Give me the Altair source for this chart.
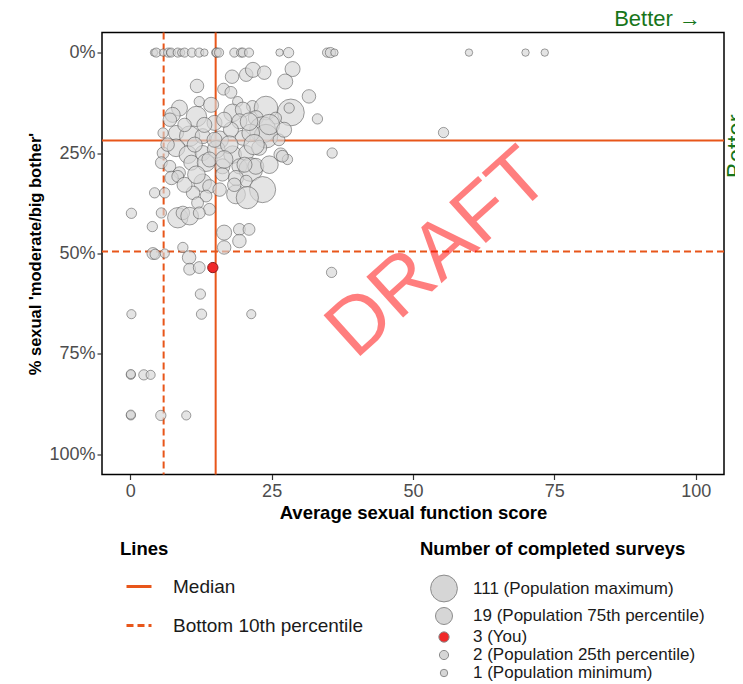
import altair as alt
import pandas as pd

FONT = "Liberation Sans"
ORANGE = "#e8561a"
GREEN = "#17751a"
GREY = "#d6d6d6"
RED = "#f02828"

# ---- data ----
# points sitting on the 0% line
top_scores = [4.2, 4.6, 5.8, 6.7, 7.1, 7.2, 8.4, 9.0, 9.6, 10.9, 12.2, 13.1, 15.2, 15.3, 15.7,
              18.4, 19.6, 19.9, 21.0, 26.4, 28.0, 34.8, 35.4, 36.1, 59.9, 69.9, 73.3]
top_n = [1, 2, 1, 2, 1, 2, 2, 1, 2, 2, 2, 1, 2, 2, 2,
         2, 2, 2, 2, 1, 3, 2, 3, 1, 1, 1, 1]

# remaining practices
cl_scores = [18.0, 20.5, 21.7, 23.7, 28.7, 27.4, 11.8, 16.5, 17.8, 31.6,
             8.7, 12.2, 14.3, 19.0, 21.6, 24.0, 28.4, 28.1, 33.1, 7.5,
             11.7, 14.9, 18.1, 19.9, 19.3, 22.2, 25.7, 23.4, 24.0, 26.3,
             5.8, 8.1, 10.5, 12.8, 15.8, 19.9, 17.8, 21.3, 35.7, 5.8,
             8.1, 10.2, 12.8, 15.2, 18.1, 20.5, 22.8, 26.6, 27.8, 5.5,
             7.0, 8.7, 10.8, 13.4, 16.3, 19.3, 21.3, 7.3, 8.4, 12.8,
             14.0, 16.3, 18.7, 20.5, 23.4, 18.7, 20.7, 11.1, 13.4, 11.9,
             14.0, 4.3, 6.1, 0.2, 5.5, 8.4, 9.3, 10.5, 12.2, 3.9,
             16.6, 19.3, 21.0, 19.3, 16.6, 4.0, 4.4, 6.1, 9.3, 10.4,
             10.5, 12.2, 35.6, 12.4, 0.2, 12.6, 21.4, 0.1, 0.1, 2.4,
             3.6, 0.1, 0.1, 5.4, 9.9, 55.4, 22.2, 26.9,
             16.6, 13.1, 9.6, 21.0, 24.6, 27.2, 14.9, 17.5, 21.9, 11.4,
             14.0, 16.6, 20.2, 24.6, 9.6, 15.8, 18.4, 11.7, 6.6, 7.0]
cl_pct = [6.0, 5.5, 4.3, 5.0, 4.1, 7.2, 8.3, 9.1, 9.9, 10.9,
          13.8, 12.2, 13.0, 12.2, 13.4, 13.8, 14.9, 13.8, 16.5, 15.5,
          15.9, 17.5, 15.0, 14.2, 17.1, 16.3, 16.3, 19.2, 20.8, 21.7,
          20.0, 20.0, 20.8, 20.8, 21.7, 21.2, 19.2, 20.0, 25.0, 25.0,
          23.7, 25.4, 25.0, 24.1, 25.4, 25.0, 23.7, 25.4, 26.6, 27.4,
          28.3, 29.9, 27.4, 27.4, 28.3, 28.3, 29.1, 31.2, 30.8, 32.4,
          33.3, 30.3, 31.2, 32.0, 34.1, 35.3, 36.1, 34.9, 35.7, 37.4,
          39.0, 34.9, 34.9, 40.0, 39.9, 41.1, 39.9, 40.7, 39.9, 43.3,
          44.8, 44.0, 44.0, 46.9, 48.5, 50.0, 50.2, 50.0, 48.5, 51.0,
          53.9, 53.5, 54.7, 60.1, 65.1, 65.1, 65.1, 80.2, 80.0, 80.2,
          80.2, 90.3, 90.1, 90.3, 90.3, 19.9, 28.3, 25.8,
          16.7, 18.0, 18.0, 17.2, 17.9, 19.2, 21.7, 22.9, 22.9, 22.9,
          26.6, 26.6, 27.9, 27.9, 32.9, 34.1, 32.9, 30.4, 22.9, 16.7]
cl_n = [8, 8, 12, 8, 12, 12, 8, 5, 5, 8,
        15, 3, 12, 3, 5, 68, 111, 3, 3, 12,
        38, 12, 22, 12, 12, 12, 5, 100, 68, 5,
        3, 12, 38, 12, 22, 12, 12, 22, 3, 5,
        22, 22, 12, 22, 22, 12, 12, 8, 3, 5,
        5, 5, 12, 22, 12, 12, 68, 8, 5, 22,
        8, 8, 12, 5, 100, 28, 53, 8, 5, 5,
        5, 3, 3, 3, 3, 38, 8, 22, 5, 3,
        12, 5, 5, 8, 8, 5, 3, 2, 3, 8,
        5, 5, 3, 3, 2, 3, 2, 2, 2, 3,
        2, 2, 2, 3, 2, 3, 15, 5,
        12, 12, 8, 22, 38, 12, 12, 22, 38, 12,
        12, 22, 12, 22, 12, 8, 8, 22, 8, 8]

you_score = [14.6]
you_pct = [53.5]
you_n = [3]

line_types = ["Median", "Bottom 10th percentile"]
score_lines = [15.1, 5.9]
pct_lines = [21.9, 49.5]

legend_values = [111, 19, 3, 2, 1]
legend_labels = ["111 (Population maximum)", "19 (Population 75th percentile)", "3 (You)",
                 "2 (Population 25th percentile)", "1 (Population minimum)"]

x_ticks = [0, 25, 50, 75, 100]
y_ticks = [0, 25, 50, 75, 100]

watermark = ["DRAFT"]
watermark_score = [54.5]
watermark_pct = [50.0]

# ---- tables ----
pts = pd.DataFrame({
    "score": top_scores + cl_scores,
    "pct": [0.0] * len(top_scores) + cl_pct,
    "n": top_n + cl_n,
})
pts["key"] = 1            # everyone else -> grey
you_df = pd.DataFrame({"score": you_score, "pct": you_pct, "n": you_n})
you_df["key"] = you_df["n"]   # "You" -> red
vdf = pd.DataFrame({"score": score_lines, "type": line_types})
hdf = pd.DataFrame({"pct": pct_lines, "type": line_types})
draft_df = pd.DataFrame({"score": watermark_score, "pct": watermark_pct, "label": watermark})

# ---- encodings ----
x_enc = alt.X("score:Q",
              scale=alt.Scale(domain=[-5, 105], nice=False, zero=False),
              axis=alt.Axis(values=x_ticks, title="Average sexual function score",
                            titleFontSize=18.5, titlePadding=3, labelPadding=3))
y_scale = alt.Scale(domain=[-5, 105], reverse=True, nice=False, zero=False)
y_left = alt.Y("pct:Q", scale=y_scale,
               axis=alt.Axis(orient="left", values=y_ticks, labelExpr="datum.value + '%'",
                             title="% sexual 'moderate/big bother'", titleFontSize=16.5,
                             titlePadding=5, labelPadding=2))
y_right = alt.Y("pct:Q", scale=y_scale,
                axis=alt.Axis(orient="right", labels=False, ticks=False, domain=False, grid=False,
                              title="Better →", titleColor=GREEN, titleFontSize=24,
                              titleFontWeight="normal", titleAngle=270, titleX=12, titleY=98,
                              titleAlign="center", titleBaseline="middle"))
y_none = alt.Y("pct:Q", scale=y_scale, axis=None)

dash_enc = alt.StrokeDash(
    "type:N",
    scale=alt.Scale(domain=line_types, range=[[1, 0], [7, 4]]),
    legend=alt.Legend(title="Lines", orient="none", legendX=18, legendY=507.5, padding=0,
                      symbolType="stroke", symbolStrokeColor=ORANGE, symbolStrokeWidth=3,
                      symbolSize=625, symbolOffset=5, labelOffset=20,
                      titleFont=FONT, titleFontSize=18.5, titleFontWeight="bold", titleColor="black",
                      titlePadding=14, titleLimit=400,
                      labelFont=FONT, labelFontSize=19, labelColor="#1a1a1a", labelLimit=400,
                      rowPadding=15))

# one shared domain so that size and fill merge into a single legend
lo, hi = 1, 111
you_v = you_n[0]
dom = [lo, you_v - 0.5, you_v, you_v + 0.5, hi]


def area(v):
    return 55 + 665 * (v ** 0.5 - 1) / (hi ** 0.5 - 1)


label_expr = " : ".join(f"datum.value == {v} ? '{l}'" for v, l in zip(legend_values, legend_labels)) + " : datum.label"
size_legend = alt.Legend(title="Number of completed surveys", orient="none", legendX=318, legendY=507.5,
                         padding=0, values=legend_values, labelExpr=label_expr,
                         symbolType="circle", symbolStrokeColor="#8c8c8c",
                         symbolStrokeWidth=1, symbolOpacity=1, symbolOffset=10, labelOffset=15,
                         titleFont=FONT, titleFontSize=18.5, titleFontWeight="bold", titleColor="black",
                         titlePadding=16, titleLimit=400,
                         labelFont=FONT, labelFontSize=17, labelColor="#1a1a1a", labelLimit=400,
                         rowPadding=0)
size_enc = alt.Size("n:Q",
                    scale=alt.Scale(type="sqrt", domain=dom, range=[area(v) for v in dom], zero=False),
                    legend=size_legend)
color_enc = alt.Color("key:Q",
                      scale=alt.Scale(type="linear", domain=dom, range=[GREY, GREY, RED, GREY, GREY],
                                      zero=False, interpolate="rgb"),
                      legend=size_legend)

# ---- layers ----
vrules = alt.Chart(vdf).mark_rule(color=ORANGE, strokeWidth=2).encode(x=x_enc, strokeDash=dash_enc)
hrules = alt.Chart(hdf).mark_rule(color=ORANGE, strokeWidth=2).encode(y=y_right, strokeDash=dash_enc)
points = alt.Chart(pts).mark_circle(fillOpacity=0.65, stroke="#444444",
                                    strokeOpacity=0.5, strokeWidth=1).encode(
    x=x_enc, y=y_left, size=size_enc, color=color_enc)
you = alt.Chart(you_df).mark_circle(fillOpacity=1, stroke="#8b1a1a",
                                    strokeWidth=1, opacity=1).encode(
    x=x_enc, y=y_none, size=size_enc, color=color_enc)
draft = alt.Chart(draft_df).mark_text(angle=318, fontSize=80, font=FONT, color="#ff0000",
                                      opacity=0.5).encode(x=x_enc, y=y_none, text="label:N")

chart = alt.layer(vrules, hrules, points, you, draft).resolve_axis(y="independent").properties(
    width=622, height=442,
    autosize=alt.AutoSizeParams(type="none"),
    padding={"left": 94, "top": 24.5, "right": 11, "bottom": 209},
    title=alt.TitleParams("Better →", anchor="end", color=GREEN, fontSize=22, font=FONT,
                          fontWeight="normal", dx=-23, offset=1, frame="group"),
).configure_view(stroke="black", strokeWidth=1.5).configure_axis(
    grid=False, domain=False, tickColor="#333333", tickWidth=1.2, tickSize=5,
    labelColor="#4d4d4d", labelFont=FONT, labelFontSize=18,
    titleFont=FONT, titleFontWeight="bold", titleColor="black",
)

chart.save("out.html", embed_options={"renderer": "svg", "actions": False})
